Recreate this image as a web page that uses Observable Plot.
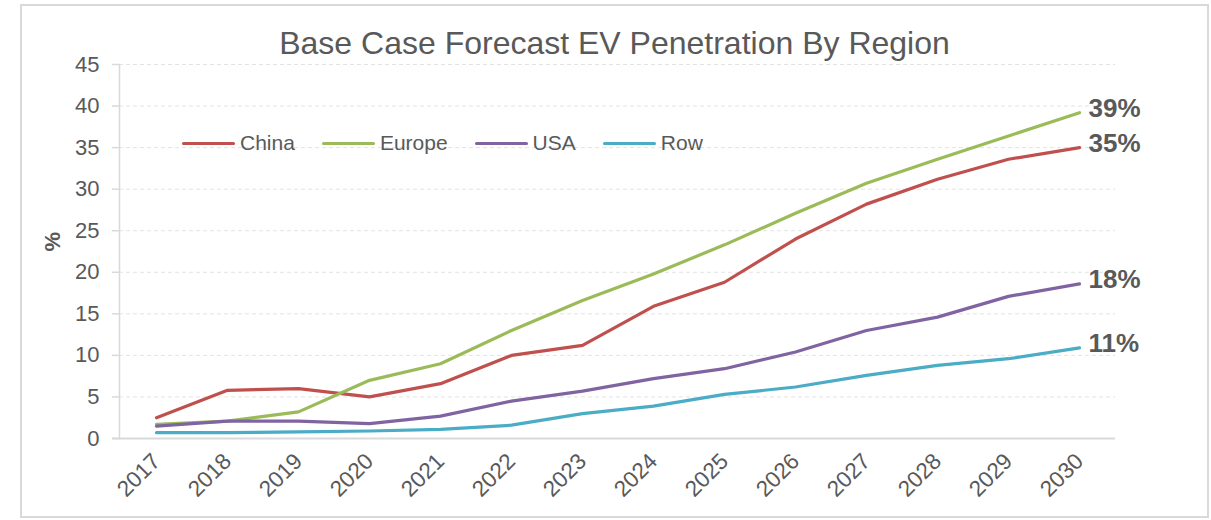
<!DOCTYPE html>
<html>
<head>
<meta charset="utf-8">
<script src="https://cdn.jsdelivr.net/npm/d3@7"></script>
<script src="https://cdn.jsdelivr.net/npm/@observablehq/plot@0.6"></script>
<style>
  html, body { margin: 0; padding: 0; background: #fff; }
  #wrap { position: relative; width: 1211px; height: 520px; overflow: hidden; font-family: "Liberation Sans", Arial, sans-serif; }
  #border { position: absolute; left: 20px; top: 4px; width: 1189px; height: 514px; border: 2px solid #d9d9d9; box-sizing: border-box; }
  #chart { position: absolute; left: 0; top: 0; }
  #title { position: absolute; left: 20px; width: 1189px; top: 27px; text-align: center; font-size: 32px; line-height: 32px; color: #595959; }
  #legend { position: absolute; left: 182px; top: 131px; display: flex; gap: 27px; font-size: 21px; line-height: 24px; color: #595959; }
  .item { display: flex; align-items: center; }
  .swatch { width: 53px; height: 3px; border-radius: 2px; margin-right: 5px; }
</style>
</head>
<body>
<div id="wrap">
  <div id="border"></div>
  <div id="chart"></div>
  <div id="title"></div>
  <div id="legend"></div>
</div>
<script>
const titleText = "Base Case Forecast EV Penetration By Region";
const years = ["2017","2018","2019","2020","2021","2022","2023","2024","2025","2026","2027","2028","2029","2030"];
const regions = ["China", "Europe", "USA", "Row"];
const regionColors = ["#C0504D", "#9BBB59", "#8064A2", "#4BACC6"];
const china  = [2.5, 5.8, 6.0, 5.0, 6.6, 10.0, 11.2, 15.9, 18.8, 24.0, 28.2, 31.2, 33.6, 35.0];
const europe = [1.7, 2.1, 3.2, 7.0, 9.0, 13.0, 16.6, 19.8, 23.3, 27.1, 30.7, 33.6, 36.4, 39.2];
const usa    = [1.5, 2.1, 2.1, 1.8, 2.7, 4.5, 5.7, 7.2, 8.4, 10.4, 13.0, 14.6, 17.1, 18.6];
const row    = [0.7, 0.7, 0.8, 0.9, 1.1, 1.6, 3.0, 3.9, 5.3, 6.2, 7.6, 8.8, 9.6, 10.9];
const endLabels = ["35%", "39%", "18%", "11%"];
const yTicks = [0, 5, 10, 15, 20, 25, 30, 35, 40, 45];
const yLabel = "%";

const series = [china, europe, usa, row];
const data = [];
regions.forEach((r, i) => years.forEach((yr, j) => data.push({region: r, year: yr, value: series[i][j]})));
const ends = regions.map((r, i) => ({region: r, year: years[years.length - 1], value: series[i][years.length - 1], label: endLabels[i]}));

const textColor = "#595959";
const axisColor = "#d9d9d9";

const plot = Plot.plot({
  width: 1211,
  height: 520,
  marginTop: 64,
  marginBottom: 82,
  marginLeft: 119,
  marginRight: 96,
  style: { fontFamily: "'Liberation Sans', Arial, sans-serif", background: "transparent", overflow: "visible" },
  x: { type: "point", domain: years, padding: 0.5 },
  y: { domain: [0, 45] },
  color: { domain: regions, range: regionColors },
  marks: [
    Plot.ruleY(yTicks.filter(d => d > 0), { stroke: "#e3e3e3", strokeWidth: 1, strokeDasharray: "4,3" }),
    Plot.frame({ anchor: "left", stroke: axisColor, strokeWidth: 1.5 }),
    Plot.ruleY([0], { stroke: axisColor, strokeWidth: 2, insetLeft: -7 }),
    Plot.axisY({ ticks: yTicks, tickSize: 7, tickPadding: 13, fontSize: 22, fill: textColor, stroke: axisColor, strokeWidth: 1.5, label: null }),
    Plot.axisX({ tickRotate: -45, tickSize: 0, tickPadding: 19, fontSize: 22.5, fill: textColor, label: null }),
    Plot.text([yLabel], { frameAnchor: "left", dx: -67, rotate: -90, fontSize: 22, fontWeight: "bold", fill: textColor }),
    Plot.line(data, { x: "year", y: "value", z: "region", stroke: "region", strokeWidth: 3.2, strokeLinejoin: "round", strokeLinecap: "round" }),
    Plot.text(ends, { x: "year", y: "value", text: "label", dx: 9, dy: -4, textAnchor: "start", fontSize: 26, fontWeight: "bold", fill: textColor })
  ]
});
document.getElementById("chart").appendChild(plot);
document.getElementById("title").textContent = titleText;

const legend = document.getElementById("legend");
regions.forEach((r, i) => {
  const item = document.createElement("div");
  item.className = "item";
  const sw = document.createElement("span");
  sw.className = "swatch";
  sw.style.background = regionColors[i];
  const t = document.createElement("span");
  t.textContent = r;
  item.appendChild(sw);
  item.appendChild(t);
  legend.appendChild(item);
});
</script>
</body>
</html>
